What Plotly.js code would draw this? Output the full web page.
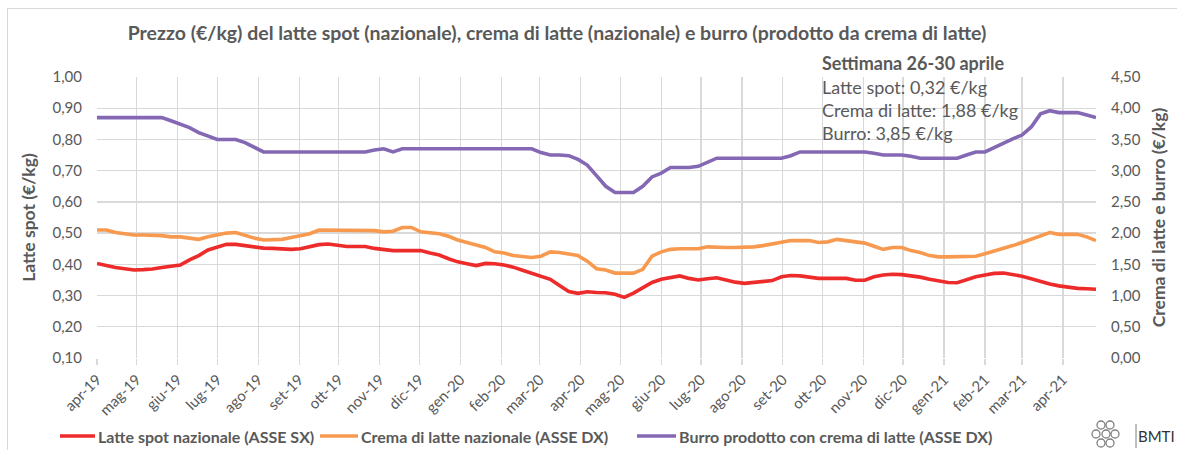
<!DOCTYPE html>
<html>
<head>
<meta charset="utf-8">
<script src="https://cdn.plot.ly/plotly-3.0.1.min.js"></script>
<style>
  html, body { margin: 0; padding: 0; background: #ffffff; overflow: hidden; }
  #frame { position: absolute; left: 7px; top: 8px; width: 1200px; height: 500px; border: 1px solid #d9d9d9; box-sizing: border-box; }
  #chart { position: absolute; left: 0; top: 0; width: 1177px; height: 450px; }
</style>
</head>
<body>
<div id="frame"></div>
<div id="chart"></div>
<script>
// ---- DATA ----
const firstWeek = '2019-04-01';   // settimana iniziale (lunedì)
const monthTicks = ['2019-04-01','2019-05-01','2019-06-01','2019-07-01','2019-08-01','2019-09-01','2019-10-01','2019-11-01','2019-12-01',
  '2020-01-01','2020-02-01','2020-03-01','2020-04-01','2020-05-01','2020-06-01','2020-07-01','2020-08-01','2020-09-01','2020-10-01','2020-11-01','2020-12-01',
  '2021-01-01','2021-02-01','2021-03-01','2021-04-01'];
const monthLabels = ['apr-19','mag-19','giu-19','lug-19','ago-19','set-19','ott-19','nov-19','dic-19',
  'gen-20','feb-20','mar-20','apr-20','mag-20','giu-20','lug-20','ago-20','set-20','ott-20','nov-20','dic-20',
  'gen-21','feb-21','mar-21','apr-21'];

// Latte spot nazionale (€/kg) - asse sinistro
const latteSpot = [0.403,0.396,0.390,0.386,0.382,0.383,0.385,0.390,0.394,0.398,
  0.414,0.428,0.446,0.455,0.464,0.464,0.460,0.455,0.452,0.451,
  0.449,0.448,0.450,0.456,0.463,0.465,0.460,0.457,0.457,0.457,
  0.451,0.447,0.444,0.444,0.444,0.444,0.436,0.430,0.418,0.408,
  0.402,0.396,0.403,0.402,0.398,0.391,0.381,0.372,0.363,0.352,
  0.332,0.313,0.307,0.312,0.310,0.309,0.304,0.294,0.308,0.325,
  0.342,0.352,0.358,0.363,0.355,0.350,0.354,0.357,0.350,0.343,
  0.339,0.342,0.346,0.348,0.360,0.364,0.363,0.360,0.355,0.355,
  0.355,0.355,0.349,0.349,0.360,0.366,0.368,0.367,0.363,0.359,
  0.352,0.347,0.342,0.341,0.352,0.360,0.366,0.371,0.372,0.368,
  0.362,0.354,0.344,0.337,0.331,0.326,0.323,0.322,0.320];

// Crema di latte nazionale (€/kg) - asse destro
const crema = [2.05,2.05,2.01,1.99,1.97,1.97,1.97,1.96,1.94,1.94,
  1.92,1.90,1.94,1.97,2.00,2.01,1.96,1.92,1.89,1.89,
  1.90,1.93,1.96,1.99,2.05,2.05,2.04,2.04,2.04,2.04,
  2.04,2.02,2.03,2.09,2.09,2.02,2.01,1.99,1.95,1.89,
  1.85,1.81,1.77,1.70,1.68,1.64,1.62,1.61,1.63,1.70,
  1.69,1.67,1.64,1.55,1.43,1.41,1.36,1.36,1.36,1.42,
  1.63,1.70,1.74,1.75,1.75,1.75,1.78,1.77,1.77,1.77,
  1.77,1.78,1.80,1.83,1.86,1.88,1.88,1.88,1.85,1.86,
  1.90,1.88,1.86,1.84,1.79,1.74,1.77,1.77,1.72,1.69,
  1.64,1.62,1.62,1.62,1.62,1.63,1.67,1.71,1.75,1.80,
  1.85,1.90,1.96,2.01,1.98,1.98,1.98,1.94,1.88];

// Burro prodotto con crema di latte (€/kg) - asse destro
const burro = [3.85,3.85,3.85,3.85,3.85,3.85,3.85,3.85,3.80,3.75,
  3.69,3.61,3.55,3.50,3.50,3.50,3.45,3.38,3.30,3.30,
  3.30,3.30,3.30,3.30,3.30,3.30,3.30,3.30,3.30,3.30,
  3.33,3.35,3.30,3.35,3.35,3.35,3.35,3.35,3.35,3.35,
  3.35,3.35,3.35,3.35,3.35,3.35,3.35,3.35,3.29,3.25,
  3.25,3.24,3.18,3.09,2.92,2.75,2.65,2.65,2.65,2.75,
  2.90,2.96,3.05,3.05,3.05,3.07,3.14,3.20,3.20,3.20,
  3.20,3.20,3.20,3.20,3.20,3.24,3.30,3.30,3.30,3.30,
  3.30,3.30,3.30,3.30,3.28,3.25,3.25,3.25,3.23,3.20,
  3.20,3.20,3.20,3.20,3.25,3.30,3.30,3.37,3.45,3.51,
  3.57,3.70,3.91,3.96,3.93,3.93,3.93,3.89,3.85];

const seriesNames = ['Latte spot nazionale (ASSE SX)','Crema di latte nazionale (ASSE DX)','Burro prodotto con crema di latte (ASSE DX)'];
const seriesColors = ['#ee2b2b', '#f79a50', '#8468b4'];
const boxLines = ['Settimana 26-30 aprile','Latte spot: 0,32 €/kg','Crema di latte: 1,88 €/kg','Burro: 3,85 €/kg'];

// weekly dates
function weekDates(start, n) {
  const out = [];
  const t0 = Date.parse(start + 'T00:00:00Z');
  for (let i = 0; i < n; i++) {
    out.push(new Date(t0 + i * 7 * 86400000).toISOString().slice(0, 10));
  }
  return out;
}
const weeks = weekDates(firstWeek, latteSpot.length);

// ---- STYLE ----
const FONT = 'Lato, "Open Sans", sans-serif';
const GREY = '#595959';
const GRID = '#d9d9d9';
const PX = v => (v - 97) / 999;       // pixel x -> paper x
const PY = v => (358 - v) / 281;      // pixel y -> paper y

const traces = [
  { x: weeks, y: latteSpot, name: seriesNames[0], type: 'scatter', mode: 'lines', yaxis: 'y',
    line: { color: seriesColors[0], width: 3.6 } },
  { x: weeks, y: crema, name: seriesNames[1], type: 'scatter', mode: 'lines', yaxis: 'y2',
    line: { color: seriesColors[1], width: 3.6 } },
  { x: weeks, y: burro, name: seriesNames[2], type: 'scatter', mode: 'lines', yaxis: 'y2',
    line: { color: seriesColors[2], width: 3.6 } }
];

const annotations = [];
const shapes = [];

// info box
const boxY = [63, 87, 110, 133];
boxLines.forEach((t, i) => {
  annotations.push({
    xref: 'paper', yref: 'paper',
    x: PX(820), y: PY(boxY[i]),
    xanchor: 'left', yanchor: 'middle', showarrow: false,
    text: i === 0 ? '<b>' + t + '</b>' : t,
    font: { family: FONT, size: 18, color: GREY }
  });
});

// legend (drawn as line samples + labels)
const legY = 436;
const legLine = [[60, 95], [320, 358], [637, 676]];
seriesNames.forEach((n, i) => {
  shapes.push({ type: 'line', xref: 'paper', yref: 'paper',
    x0: PX(legLine[i][0]), x1: PX(legLine[i][1]), y0: PY(legY), y1: PY(legY),
    line: { color: seriesColors[i], width: 3.6 } });
  annotations.push({ xref: 'paper', yref: 'paper',
    x: PX(legLine[i][1] + 1), y: PY(legY), xanchor: 'left', yanchor: 'middle', showarrow: false,
    text: '<b>' + n + '</b>', font: { family: FONT, size: 16, color: GREY } });
});

// logo
annotations.push({
  xref: 'paper', yref: 'paper', x: PX(1177), y: PY(436),
  xanchor: 'right', yanchor: 'middle', showarrow: false,
  text: 'BMTI', font: { family: FONT, size: 15, color: '#333333' }
});
shapes.push({ type: 'line', xref: 'paper', yref: 'paper', x0: PX(1136), x1: PX(1136),
  y0: PY(424), y1: PY(448), line: { color: '#7f7f7f', width: 1 } });
const logoCenters = [[1101,425],[1110,425],[1096,434],[1106,434],[1115,434],[1101,443],[1110,443]];
logoCenters.forEach(c => {
  shapes.push({ type: 'circle', xref: 'paper', yref: 'paper',
    x0: PX(c[0] - 4), x1: PX(c[0] + 4),
    y0: PY(c[1] + 4), y1: PY(c[1] - 4),
    line: { color: '#7f7f7f', width: 1.3 } });
});

const layout = {
  width: 1177, height: 450,
  margin: { l: 97, r: 81, t: 77, b: 92 },
  paper_bgcolor: 'rgba(0,0,0,0)', plot_bgcolor: '#ffffff',
  separators: ',.',
  font: { family: FONT, color: GREY },
  showlegend: false,
  title: {
    text: '<b>Prezzo (€/kg) del latte spot (nazionale), crema di latte (nazionale) e burro (prodotto da crema di latte)</b>',
    font: { family: FONT, size: 19.5, color: GREY },
    xref: 'container', x: 557 / 1177, xanchor: 'center',
    yref: 'container', y: 1 - 33 / 450, yanchor: 'middle'
  },
  xaxis: {
    type: 'date',
    range: [firstWeek, weeks[weeks.length - 1]],
    tickvals: monthTicks, ticktext: monthLabels,
    tickangle: -45,
    tickfont: { family: FONT, size: 15, color: GREY },
    showgrid: true, gridcolor: GRID, gridwidth: 1.3,
    ticks: 'outside', ticklen: 6, tickcolor: GRID, tickwidth: 1.3,
    showline: false, zeroline: false
  },
  yaxis: {
    range: [0.10, 1.00], dtick: 0.1, tick0: 0.1, tickformat: '.2f',
    tickfont: { family: FONT, size: 15, color: GREY },
    showgrid: true, gridcolor: GRID, gridwidth: 1.3,
    zeroline: false, showline: false,
    ticklabelstandoff: 14,
    title: { text: '<b>Latte spot (€/kg)</b>', font: { family: FONT, size: 17.5, color: GREY }, standoff: 12 }
  },
  yaxis2: {
    overlaying: 'y', side: 'right',
    range: [0, 4.5], dtick: 0.5, tick0: 0, tickformat: '.2f',
    tickfont: { family: FONT, size: 15, color: GREY },
    showgrid: false, zeroline: false, showline: false,
    ticklabelstandoff: 14,
    title: { text: '<b>Crema di latte e burro (€/kg)</b>', font: { family: FONT, size: 17.5, color: GREY }, standoff: 12 }
  },
  annotations: annotations,
  shapes: shapes
};

Plotly.newPlot('chart', traces, layout, { displayModeBar: false, staticPlot: true });
</script>
</body>
</html>
